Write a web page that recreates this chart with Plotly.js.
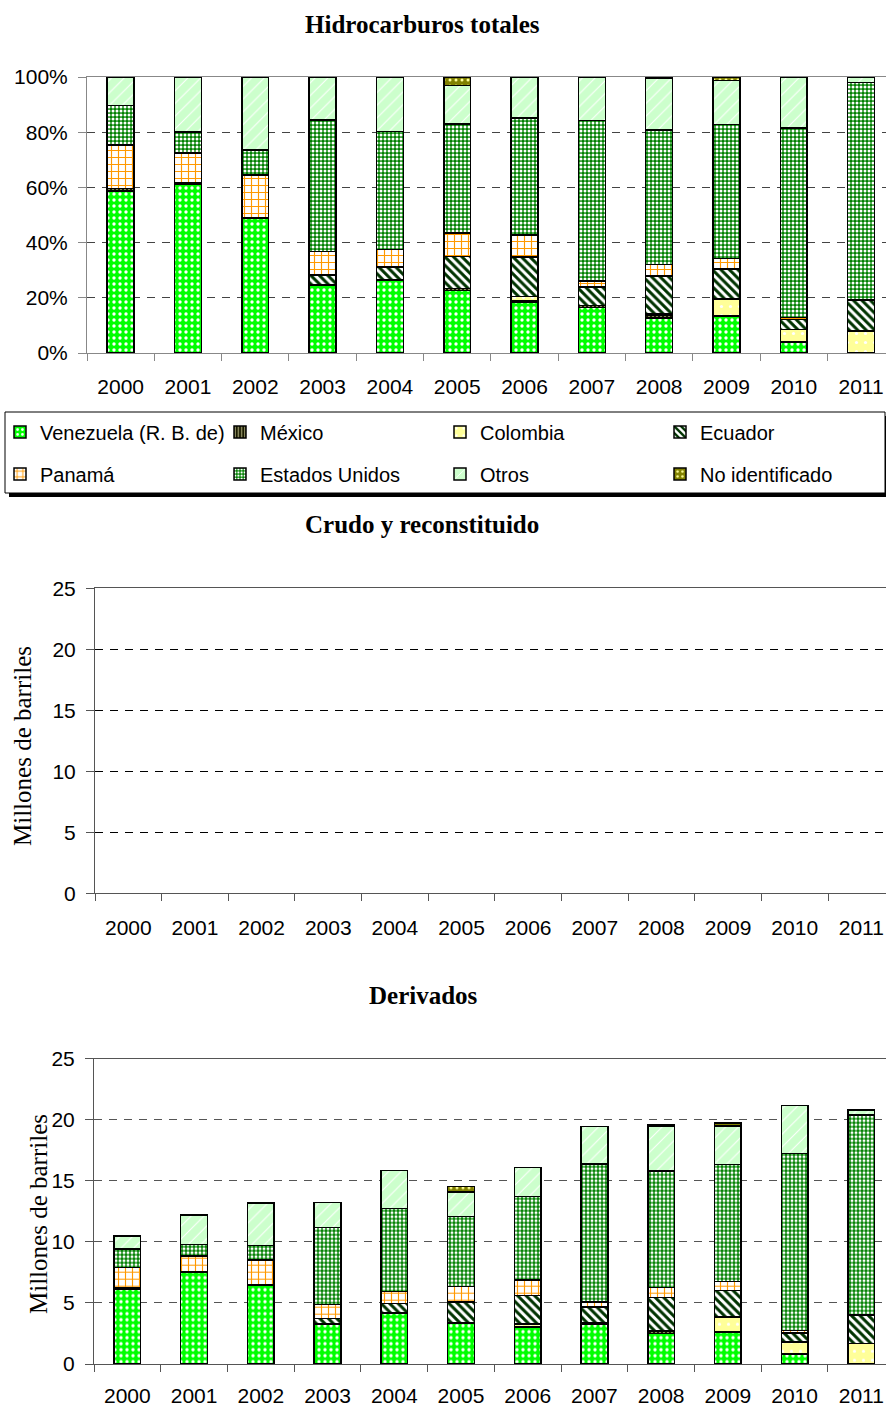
<!DOCTYPE html>
<html><head><meta charset="utf-8">
<script src="https://cdn.plot.ly/plotly-3.0.1.min.js"></script>
<style>html,body{margin:0;padding:0;background:#fff}#chart{width:886px;height:1408px}</style>
</head><body><div id="chart"></div>
<script>
// ---- data (Derivados, millones de barriles) ----
const years = ['2000','2001','2002','2003','2004','2005','2006','2007','2008','2009','2010','2011'];
const venezuela      = [6.15, 7.48, 6.45, 3.27, 4.18, 3.30, 2.98, 3.22, 2.48, 2.62, 0.82, 0];
const mexico         = [0.10, 0.05, 0.03, 0,    0,    0.10, 0.08, 0.12, 0.20, 0.05, 0.04, 0];
const colombia       = [0,    0,    0,    0,    0,    0,    0.23, 0,    0.08, 1.18, 0.95, 1.66];
const ecuador        = [0,    0,    0,    0.47, 0.77, 1.68, 2.30, 1.32, 2.69, 2.15, 0.74, 2.35];
const panama         = [1.65, 1.32, 2.03, 1.12, 1.00, 1.25, 1.28, 0.40, 0.82, 0.74, 0.18, 0];
const estadosUnidos  = [1.50, 0.93, 1.19, 6.32, 6.77, 5.73, 6.83, 11.32, 9.52, 9.60, 14.50, 16.37];
const otros          = [1.08, 2.42, 3.48, 2.05, 3.13, 2.03, 2.40, 3.05, 3.68, 3.14, 3.92, 0.41];
const noIdentificado = [0,    0,    0,    0,    0,    0.45, 0,    0,    0.09, 0.25, 0,    0];
// Crudo y reconstituido: sin datos
const crudo = [null, null, null, null, null, null, null, null, null, null, null, null];
const seriesNames = ['Venezuela (R. B. de)', 'México', 'Colombia', 'Ecuador', 'Panamá', 'Estados Unidos', 'Otros', 'No identificado'];
const pctTicks = [0, 20, 40, 60, 80, 100];
const pctTickText = ['0%', '20%', '40%', '60%', '80%', '100%'];
const barrelTicks = [0, 5, 10, 15, 20, 25];
const titles = ['Hidrocarburos totales', 'Crudo y reconstituido', 'Derivados'];
const yTitle = 'Millones de barriles';

// ---- styles ----
const series = [venezuela, mexico, colombia, ecuador, panama, estadosUnidos, otros, noIdentificado];
const patterns = [
  {shape: '.', bgcolor: '#00FF00', fgcolor: '#FFFFFF', size: 6, solidity: 0.25},
  {shape: '|', bgcolor: '#1A1A00', fgcolor: '#CCCC99', size: 4, solidity: 0.3},
  {shape: '.', bgcolor: '#FFFF99', fgcolor: '#FFFFFF', size: 9, solidity: 0.1},
  {shape: '\\', bgcolor: '#FFFFFF', fgcolor: '#003300', size: 6, solidity: 0.5},
  {shape: '+', bgcolor: '#FFFFFF', fgcolor: '#FF9900', size: 7, solidity: 0.3},
  {shape: '.', bgcolor: '#008000', fgcolor: '#FFFFFF', size: 4, solidity: 0.45},
  {shape: '/', bgcolor: '#CCFFCC', fgcolor: '#FFFFFF', size: 9, solidity: 0.12},
  {shape: '.', bgcolor: '#808000', fgcolor: '#FFFF99', size: 6, solidity: 0.2}
];

const W = 886, H = 1408;
const X = p => p / W;
const Y = p => 1 - p / H;
const sans = 'Liberation Sans, Arial, sans-serif';
const serif = 'Liberation Serif, Times New Roman, serif';

const totals = years.map((_, j) => series.reduce((s, arr) => s + arr[j], 0));

const traces = [];
series.forEach((arr, i) => {
  traces.push({
    type: 'bar', name: seriesNames[i], x: years,
    y: arr.map((v, j) => v / totals[j] * 100),
    xaxis: 'x', yaxis: 'y',
    legend: i < 4 ? 'legend' : 'legend2',
    marker: {color: patterns[i].bgcolor, line: {color: '#000', width: 1.5},
             pattern: Object.assign({fillmode: 'replace'}, patterns[i])},
    hoverinfo: 'skip'
  });
});
traces.push({type: 'bar', name: 'Crudo', x: years, y: crudo, xaxis: 'x2', yaxis: 'y2',
  showlegend: false, marker: {color: '#00FF00', line: {color: '#000', width: 1.5}}, hoverinfo: 'skip'});
series.forEach((arr, i) => {
  traces.push({
    type: 'bar', name: seriesNames[i], x: years, y: arr,
    xaxis: 'x3', yaxis: 'y3', showlegend: false,
    marker: {color: patterns[i].bgcolor, line: {color: '#000', width: 1.5},
             pattern: Object.assign({fillmode: 'replace'}, patterns[i])},
    hoverinfo: 'skip'
  });
});

function xAxis(left, anchor, lc, standoff) {
  return {
    domain: [X(left), 1], anchor: anchor, type: 'category', categoryarray: years,
    range: [-0.5, 11.37],
    tickson: 'boundaries', ticks: 'outside', ticklen: 7, tickcolor: lc,
    showline: true, linecolor: lc, linewidth: 1, mirror: true,
    showgrid: false, zeroline: false,
    tickfont: {family: sans, size: 21, color: '#000'}, ticklabelstandoff: standoff,
    fixedrange: true
  };
}
function yAxis(top, bottom, anchor, lc, gc, range, ticks, text) {
  const a = {
    domain: [Y(bottom), Y(top)], anchor: anchor, range: range,
    tickvals: ticks,
    ticks: 'outside', ticklen: 8, tickcolor: lc,
    showline: true, linecolor: lc, linewidth: 1,
    showgrid: true, gridcolor: gc, gridwidth: 1, griddash: '8px,7px',
    zeroline: false,
    tickfont: {family: sans, size: 21, color: '#000'}, ticklabelstandoff: 6,
    fixedrange: true
  };
  if (text) a.ticktext = text;
  return a;
}

const legendBase = {
  orientation: 'h', xanchor: 'left', yanchor: 'middle',
  entrywidth: 175, entrywidthmode: 'pixels', traceorder: 'normal',
  font: {family: sans, size: 20, color: '#000'},
  bgcolor: 'rgba(0,0,0,0)', borderwidth: 0, itemclick: false, itemdoubleclick: false
};

const layout = {
  width: W, height: H, margin: {l: 0, r: 0, t: 0, b: 0},
  paper_bgcolor: '#fff', plot_bgcolor: '#fff',
  barmode: 'stack', bargap: 0.6,
  xaxis: xAxis(87, 'y', '#888', 15),
  yaxis: yAxis(77, 353, 'x', '#888', '#444', [0, 100], pctTicks, pctTickText),
  xaxis2: xAxis(95, 'y2', '#555', 15),
  yaxis2: yAxis(588.3, 893.3, 'x2', '#555', '#000', [0, 25], barrelTicks),
  xaxis3: xAxis(94, 'y3', '#555', 13),
  yaxis3: yAxis(1058.7, 1364, 'x3', '#555', '#555', [0, 25], barrelTicks),
  legend: Object.assign({x: 0, y: Y(432)}, legendBase),
  legend2: Object.assign({x: 0, y: Y(474)}, legendBase),
  shapes: [
    {type: 'rect', xref: 'paper', yref: 'paper', x0: X(9), x1: X(889), y0: Y(497), y1: Y(416),
     fillcolor: '#000', line: {width: 0}},
    {type: 'rect', xref: 'paper', yref: 'paper', x0: X(5), x1: X(885), y0: Y(493), y1: Y(412),
     fillcolor: '#fff', line: {color: '#000', width: 1}}
  ],
  annotations: [
    {text: '<b>' + titles[0] + '</b>', x: X(422), y: Y(25)},
    {text: '<b>' + titles[1] + '</b>', x: X(422), y: Y(525)},
    {text: '<b>' + titles[2] + '</b>', x: X(423), y: Y(995)}
  ].map(a => Object.assign({xref: 'paper', yref: 'paper', showarrow: false, xanchor: 'center', yanchor: 'middle',
      font: {family: serif, size: 25, color: '#000'}}, a)).concat([
    {text: yTitle, x: X(22), y: Y(746), textangle: -90},
    {text: yTitle, x: X(38), y: Y(1214), textangle: -90}
  ].map(a => Object.assign({xref: 'paper', yref: 'paper', showarrow: false, xanchor: 'center', yanchor: 'middle',
      font: {family: serif, size: 25, color: '#000'}}, a)))
};

Plotly.newPlot('chart', traces, layout, {staticPlot: true, displayModeBar: false});
</script>
</body></html>
